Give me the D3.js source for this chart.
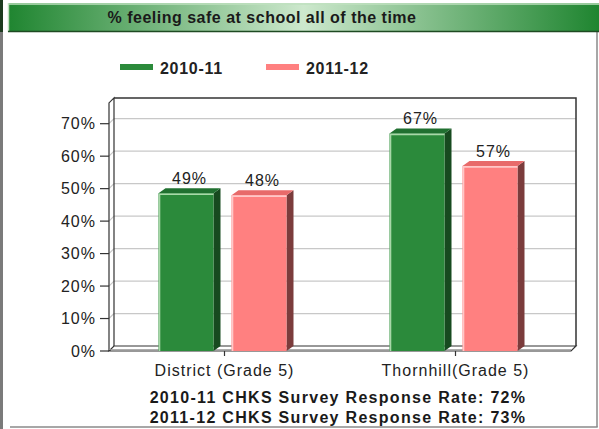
<!DOCTYPE html>
<html>
<head>
<meta charset="utf-8">
<script src="https://cdn.jsdelivr.net/npm/d3@7"></script>
<style>
  html, body { margin: 0; padding: 0; background: #fff; }
  svg { display: block; font-family: "Liberation Sans", Arial, sans-serif; }
</style>
</head>
<body>
<svg id="chart"></svg>
<script>
// --- data ---
const categories = ["District (Grade 5)", "Thornhill(Grade 5)"];
const seriesNames = ["2010-11", "2011-12"];
const values2010 = [48.6, 67];
const values2011 = [48, 57];
const yTicks = [0, 10, 20, 30, 40, 50, 60, 70];
const footLines = [
  "2010-11 CHKS Survey Response Rate: 72%",
  "2011-12 CHKS Survey Response Rate: 73%"
];
const title = "% feeling safe at school all of the time";

// colours for each series: front, top, side, highlight
const fronts = ["#2b8a3b", "#ff8080"];
const tops = ["#207030", "#e86a6a"];
const sides = ["#174a1f", "#7b3c3c"];
const lights = ["#a8d8a8", "#ffc8c8"];

const width = 599, height = 429;
const svg = d3.select("#chart").attr("width", width).attr("height", height);

// --- frame / title bar ---
const defs = svg.append("defs");
const grad = defs.append("linearGradient").attr("id", "titleGrad")
  .attr("x1", "0%").attr("x2", "100%").attr("y1", "0%").attr("y2", "0%");
grad.append("stop").attr("offset", "0%").attr("stop-color", "#1f8530");
grad.append("stop").attr("offset", "50%").attr("stop-color", "#cde8cd");
grad.append("stop").attr("offset", "100%").attr("stop-color", "#1f8530");

svg.append("rect").attr("x", 0).attr("y", 0).attr("width", 3).attr("height", 32).attr("fill", "#1d3b1f");
svg.append("rect").attr("x", 0).attr("y", 32).attr("width", 3).attr("height", height - 32).attr("fill", "#7a7a7a");
svg.append("line").attr("x1", 597).attr("x2", 597).attr("y1", 32).attr("y2", 427)
  .attr("stroke", "#8a8a8a").attr("stroke-width", 1.5);
svg.append("line").attr("x1", 10).attr("x2", 597.7).attr("y1", 427).attr("y2", 427)
  .attr("stroke", "#8a8a8a").attr("stroke-width", 1.5);

svg.append("rect").attr("x", 8).attr("y", 3).attr("width", 591).attr("height", 29).attr("fill", "url(#titleGrad)");
svg.append("line").attr("x1", 8).attr("x2", 599).attr("y1", 4).attr("y2", 4).attr("stroke", "#bfe0bf").attr("stroke-width", 1.5);
svg.append("line").attr("x1", 8.5).attr("x2", 8.5).attr("y1", 3).attr("y2", 32).attr("stroke", "#bfe0bf").attr("stroke-width", 1.5);
svg.append("line").attr("x1", 8).attr("x2", 599).attr("y1", 31.5).attr("y2", 31.5).attr("stroke", "#1e4a22").attr("stroke-width", 1.5);
svg.append("text").attr("x", 262).attr("y", 23).attr("text-anchor", "middle")
  .attr("font-size", 16).attr("font-weight", "bold").attr("letter-spacing", 0.5)
  .attr("fill", "#1a1a1a").text(title);

// --- legend ---
const legendX = [120, 266];
seriesNames.forEach((s, i) => {
  svg.append("rect").attr("x", legendX[i]).attr("y", 64).attr("width", 33).attr("height", 6).attr("fill", fronts[i]);
  svg.append("text").attr("x", legendX[i] + 40).attr("y", 74)
    .attr("font-size", 16).attr("font-weight", "bold").attr("letter-spacing", 0.7)
    .attr("fill", "#222").text(s);
});

// --- scales ---
const dx = 5, dy = 5;          // wall depth
const bdx = 7, bdy = 5;        // bar depth
const y = d3.scaleLinear().domain([0, 70]).range([351, 123.7]);
const yMax = 76.4;
const x = d3.scaleBand().domain(categories).range([109, 571]).padding(0);
const xs = d3.scaleBand().domain(seriesNames).range([-66, 62]).paddingInner(18 / 73).paddingOuter(0);

const pLeft = 109, pRight = 571, pBottom = y(0), pTop = y(yMax);

// back wall + left wall + floor
const g = svg.append("g");
g.append("rect").attr("x", pLeft + dx).attr("y", pTop - dy)
  .attr("width", pRight - pLeft).attr("height", pBottom - pTop).attr("fill", "#fff");

// grid lines on back wall and left wall
yTicks.filter(v => v > 0).forEach(v => {
  g.append("line").attr("x1", pLeft + dx).attr("x2", pRight + dx)
    .attr("y1", y(v) - dy).attr("y2", y(v) - dy).attr("stroke", "#c8c8c8").attr("stroke-width", 1.2);
  g.append("line").attr("x1", pLeft).attr("x2", pLeft + dx)
    .attr("y1", y(v)).attr("y2", y(v) - dy).attr("stroke", "#c8c8c8").attr("stroke-width", 1.2);
});

// back wall border
g.append("path")
  .attr("d", `M${pLeft + dx},${pTop - dy}H${pRight + dx}V${pBottom - dy}`)
  .attr("fill", "none").attr("stroke", "#333").attr("stroke-width", 1.5);
// left wall
g.append("path")
  .attr("d", `M${pLeft},${pBottom}V${pTop}L${pLeft + dx},${pTop - dy}V${pBottom - dy}`)
  .attr("fill", "none").attr("stroke", "#333").attr("stroke-width", 1.2);
// floor
g.append("path")
  .attr("d", `M${pLeft},${pBottom}L${pLeft + dx},${pBottom - dy}H${pRight + dx}L${pRight},${pBottom}Z`)
  .attr("fill", "#fff").attr("stroke", "#333").attr("stroke-width", 1.2);
g.append("line").attr("x1", pLeft).attr("x2", pRight).attr("y1", pBottom - 1.5).attr("y2", pBottom - 1.5)
  .attr("stroke", "#999").attr("stroke-width", 0.8);

// y axis ticks + labels
yTicks.forEach(v => {
  g.append("line").attr("x1", 100).attr("x2", pLeft).attr("y1", y(v)).attr("y2", y(v))
    .attr("stroke", "#333").attr("stroke-width", 1.2);
  g.append("text").attr("x", 96).attr("y", y(v)).attr("dy", "0.35em").attr("text-anchor", "end")
    .attr("font-size", 16).attr("letter-spacing", 1).attr("fill", "#222").text(v + "%");
});

// category ticks + labels
categories.forEach(c => {
  const cx = x(c) + x.bandwidth() / 2;
  g.append("line").attr("x1", cx).attr("x2", cx).attr("y1", pBottom).attr("y2", pBottom + 5)
    .attr("stroke", "#333").attr("stroke-width", 1.2);
  g.append("text").attr("x", cx).attr("y", 376).attr("text-anchor", "middle")
    .attr("font-size", 16).attr("letter-spacing", 1).attr("fill", "#222").text(c);
});

// --- bars ---
const allValues = [values2010, values2011];
categories.forEach((c, ci) => {
  const cx = x(c) + x.bandwidth() / 2;
  seriesNames.forEach((s, si) => {
    const v = allValues[si][ci];
    const bx = cx + xs(s), bw = xs.bandwidth(), by = y(v);
    const bar = g.append("g");
    // side
    bar.append("path")
      .attr("d", `M${bx + bw},${by}L${bx + bw + bdx},${by - bdy}V${pBottom - bdy}L${bx + bw},${pBottom}Z`)
      .attr("fill", sides[si]);
    // top
    bar.append("path")
      .attr("d", `M${bx},${by}L${bx + bdx},${by - bdy}H${bx + bw + bdx}L${bx + bw},${by}Z`)
      .attr("fill", tops[si]);
    // front
    bar.append("rect").attr("x", bx).attr("y", by).attr("width", bw).attr("height", pBottom - by)
      .attr("fill", fronts[si]);
    // highlight edges
    bar.append("path")
      .attr("d", `M${bx + 1},${pBottom}V${by + 1}H${bx + bw}`)
      .attr("fill", "none").attr("stroke", lights[si]).attr("stroke-width", 1.6);
    // value label
    g.append("text").attr("x", bx + (bw + bdx) / 2).attr("y", by - bdy - 4)
      .attr("text-anchor", "middle").attr("font-size", 16).attr("letter-spacing", 1)
      .attr("fill", "#222").text(Math.round(v) + "%");
  });
});

// --- footnotes ---
footLines.forEach((t, i) => {
  svg.append("text").attr("x", 338).attr("y", 403 + i * 20).attr("text-anchor", "middle")
    .attr("font-size", 16).attr("font-weight", "bold").attr("letter-spacing", 1.3)
    .attr("fill", "#1a1a1a").text(t);
});
</script>
</body>
</html>
